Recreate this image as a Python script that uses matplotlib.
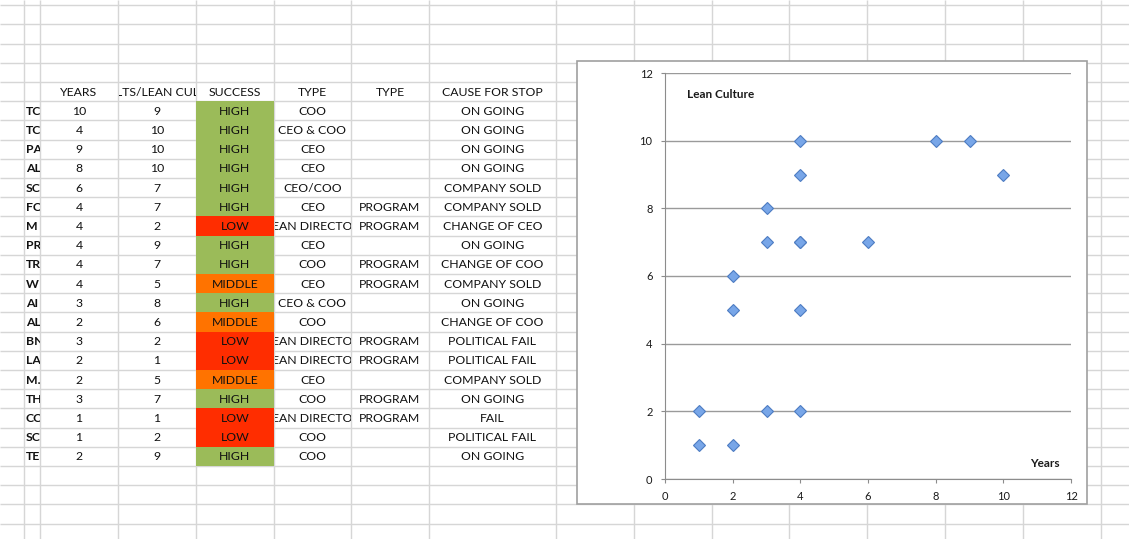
import matplotlib.pyplot as plt
from matplotlib.patches import Rectangle
from matplotlib.transforms import Bbox

plt.rcParams['font.family'] = ['Lato', 'DejaVu Sans']

# ---- table data (text as visible in the sheet cells) ----
headers = ['', 'YEARS', 'LTS/LEAN CUL', 'SUCCESS', 'TYPE', 'TYPE', 'CAUSE FOR STOP']
names = ['TC', 'TC', 'PA', 'AL', 'SC', 'FC', 'M', 'PR', 'TR', 'W', 'AI', 'AL',
         'BN', 'LA', 'M.', 'TH', 'CC', 'SC', 'TE']
years = [10, 4, 9, 8, 6, 4, 4, 4, 4, 4, 3, 2, 3, 2, 2, 3, 1, 1, 2]
lean = [9, 10, 10, 10, 7, 7, 2, 9, 7, 5, 8, 6, 2, 1, 5, 7, 1, 2, 9]
success = ['HIGH', 'HIGH', 'HIGH', 'HIGH', 'HIGH', 'HIGH', 'LOW', 'HIGH', 'HIGH', 'MIDDLE',
           'HIGH', 'MIDDLE', 'LOW', 'LOW', 'MIDDLE', 'HIGH', 'LOW', 'LOW', 'HIGH']
type1 = ['COO', 'CEO & COO', 'CEO', 'CEO', 'CEO/COO', 'CEO', 'EAN DIRECTO', 'CEO', 'COO', 'CEO',
         'CEO & COO', 'COO', 'EAN DIRECTO', 'EAN DIRECTO', 'CEO', 'COO', 'EAN DIRECTO', 'COO', 'COO']
type2 = ['', '', '', '', '', 'PROGRAM', 'PROGRAM', '', 'PROGRAM', 'PROGRAM',
         '', '', 'PROGRAM', 'PROGRAM', '', 'PROGRAM', 'PROGRAM', '', '']
cause = ['ON GOING', 'ON GOING', 'ON GOING', 'ON GOING', 'COMPANY SOLD', 'COMPANY SOLD',
         'CHANGE OF CEO', 'ON GOING', 'CHANGE OF COO', 'COMPANY SOLD', 'ON GOING', 'CHANGE OF COO',
         'POLITICAL FAIL', 'POLITICAL FAIL', 'COMPANY SOLD', 'ON GOING', 'FAIL', 'POLITICAL FAIL', 'ON GOING']
success_colors = {'HIGH': '#9bbb59', 'MIDDLE': '#ff7300', 'LOW': '#ff2d00'}

# chart ticks
ticks = [0, 2, 4, 6, 8, 10, 12]

W, H = 1129, 539
fig = plt.figure(figsize=(W / 100, H / 100), dpi=100)
bg = fig.add_axes([0, 0, 1, 1])
bg.set_xlim(0, W)
bg.set_ylim(H, 0)
bg.axis('off')

# spreadsheet grid
col_x = [24, 40, 118, 196, 274, 351, 429, 556, 634, 712, 789, 867, 945, 1023, 1101]
row_h = 19.2
row_y = [82 + row_h * k for k in range(-4, 24)]
bg.hlines(row_y, 0, W, color='#d6d6d6', lw=1, zorder=1)
bg.vlines(col_x, 0, H, color='#d6d6d6', lw=1, zorder=1)

txt = '#111111'
fs = 8.8


def cell_clip(j):
    # clip box in display pixels (figure is W x H px at dpi 100)
    return Bbox.from_extents(col_x[j] + 0.5, 0, col_x[j + 1] - 0.5, H)


header_y = 92
for j, h in enumerate(headers):
    if not h:
        continue
    x0, x1 = col_x[j], col_x[j + 1]
    t = bg.text((x0 + x1) / 2, header_y, h, ha='center', va='center', fontsize=fs, color=txt, zorder=3)
    t.set_clip_on(True)
    t.set_clip_box(cell_clip(j))

for i in range(len(names)):
    y = header_y + row_h * (i + 1)
    top = 82 + row_h * (i + 1)
    bg.add_patch(Rectangle((col_x[3], top), col_x[4] - col_x[3], row_h,
                           facecolor=success_colors[success[i]], edgecolor='none', zorder=2))
    cells = [names[i], str(years[i]), str(lean[i]), success[i], type1[i], type2[i], cause[i]]
    for j, c in enumerate(cells):
        if not c:
            continue
        x0, x1 = col_x[j], col_x[j + 1]
        if j == 0:
            t = bg.text(x0 + 2, y, c, ha='left', va='center', fontsize=fs, fontweight='bold',
                        color=txt, zorder=3)
        else:
            t = bg.text((x0 + x1) / 2, y, c, ha='center', va='center', fontsize=fs,
                        color=txt, zorder=3)
        t.set_clip_on(True)
        t.set_clip_box(cell_clip(j))

# chart frame
bg.add_patch(Rectangle((577, 61), 510, 443, facecolor='white', edgecolor='#a0a0a0', lw=1.2, zorder=5))

# scatter chart (the chart range skips the last table row)
ax = fig.add_axes([665 / W, (H - 479) / H, 406 / W, 406 / H])
ax.set_zorder(6)
ax.patch.set_alpha(0)
ax.plot(years[:-1], lean[:-1], linestyle='none', marker='D', markersize=6.5,
        markerfacecolor='#78a6e8', markeredgecolor='#4d7cc2', markeredgewidth=0.8, clip_on=False)
ax.set_xlim(0, 12)
ax.set_ylim(0, 12)
ax.set_xticks(ticks)
ax.set_yticks(ticks)
ax.grid(axis='y', color='#9a9a9a', lw=1)
ax.set_axisbelow(True)
for s in ['top', 'right']:
    ax.spines[s].set_visible(False)
for s in ['left', 'bottom']:
    ax.spines[s].set_color('#8c8c8c')
ax.tick_params(length=3, color='#8c8c8c', labelsize=8, labelcolor='#1a1a1a', pad=6)
ax.text(0.055, 0.947, 'Lean Culture', transform=ax.transAxes, fontsize=8.5, fontweight='bold',
        ha='left', va='center', color='#1a1a1a')
ax.text(0.935, 0.038, 'Years', transform=ax.transAxes, fontsize=8.5, fontweight='bold',
        ha='center', va='center', color='#1a1a1a')

fig.savefig('out.png', dpi=100)
